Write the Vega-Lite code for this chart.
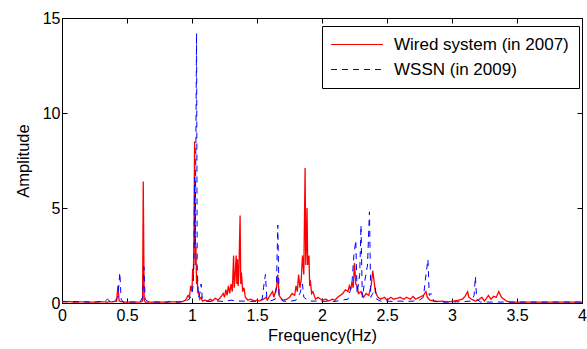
{
  "$schema": "https://vega.github.io/schema/vega-lite/v6.json",
  "autosize": {"type": "none"},
  "width": 520,
  "height": 285,
  "padding": {"left": 62, "top": 18, "right": 5, "bottom": 46},
  "background": "white",
  "config": {
    "font": "Liberation Sans",
    "view": {"stroke": "black", "strokeWidth": 1},
    "axis": {
      "grid": false,
      "domainColor": "black",
      "tickColor": "black",
      "labelColor": "black",
      "titleColor": "black",
      "labelFont": "Liberation Sans",
      "titleFont": "Liberation Sans",
      "labelFontSize": 16,
      "titleFontSize": 16.5,
      "titleFontWeight": "normal",
      "tickSize": -5
    },
    "legend": {
      "labelFont": "Liberation Sans",
      "labelFontSize": 17,
      "labelColor": "black",
      "labelLimit": 400
    }
  },
  "datasets": {
    "wired": [
      {"f":0,"a":0.05},{"f":0.05,"a":0.08},{"f":0.1,"a":0.04},{"f":0.15,"a":0.06},{"f":0.2,"a":0.05},{"f":0.25,"a":0.04},{"f":0.3,"a":0.06},{"f":0.35,"a":0.05},{"f":0.4,"a":0.07},{"f":0.42,"a":0.1},{"f":0.43,"a":0.9},{"f":0.44,"a":0.1},{"f":0.47,"a":0.05},{"f":0.5,"a":0.04},{"f":0.55,"a":0.05},{"f":0.6,"a":0.05},{"f":0.62,"a":0.1},{"f":0.625,"a":6.4},{"f":0.632,"a":0.2},{"f":0.64,"a":0.05},{"f":0.7,"a":0.05},{"f":0.75,"a":0.04},{"f":0.8,"a":0.05},{"f":0.85,"a":0.06},{"f":0.9,"a":0.05},{"f":0.93,"a":0.08},{"f":0.95,"a":0.15},{"f":0.97,"a":0.4},{"f":0.98,"a":0.3},{"f":0.99,"a":0.9},{"f":1.0,"a":0.6},{"f":1.005,"a":1.8},{"f":1.01,"a":1.2},{"f":1.015,"a":3.5},{"f":1.02,"a":8.5},{"f":1.025,"a":2.0},{"f":1.03,"a":3.0},{"f":1.035,"a":1.0},{"f":1.04,"a":1.4},{"f":1.045,"a":0.5},{"f":1.05,"a":0.6},{"f":1.06,"a":0.2},{"f":1.07,"a":0.3},{"f":1.08,"a":0.1},{"f":1.1,"a":0.15},{"f":1.12,"a":0.1},{"f":1.14,"a":0.2},{"f":1.16,"a":0.12},{"f":1.18,"a":0.25},{"f":1.2,"a":0.15},{"f":1.22,"a":0.3},{"f":1.24,"a":0.5},{"f":1.25,"a":0.3},{"f":1.26,"a":0.7},{"f":1.27,"a":0.4},{"f":1.28,"a":0.9},{"f":1.29,"a":0.5},{"f":1.3,"a":1.0},{"f":1.31,"a":0.6},{"f":1.32,"a":2.5},{"f":1.325,"a":0.8},{"f":1.33,"a":1.2},{"f":1.34,"a":2.5},{"f":1.345,"a":1.0},{"f":1.35,"a":2.3},{"f":1.355,"a":0.9},{"f":1.36,"a":1.5},{"f":1.37,"a":4.6},{"f":1.375,"a":1.0},{"f":1.38,"a":1.6},{"f":1.39,"a":0.6},{"f":1.4,"a":0.8},{"f":1.41,"a":0.3},{"f":1.43,"a":0.15},{"f":1.45,"a":0.2},{"f":1.48,"a":0.1},{"f":1.5,"a":0.15},{"f":1.52,"a":0.1},{"f":1.55,"a":0.2},{"f":1.57,"a":0.3},{"f":1.58,"a":0.15},{"f":1.6,"a":0.4},{"f":1.62,"a":0.6},{"f":1.63,"a":0.3},{"f":1.65,"a":0.8},{"f":1.66,"a":1.5},{"f":1.67,"a":0.4},{"f":1.69,"a":0.2},{"f":1.7,"a":0.15},{"f":1.73,"a":0.2},{"f":1.75,"a":0.3},{"f":1.77,"a":0.5},{"f":1.79,"a":0.4},{"f":1.8,"a":0.9},{"f":1.81,"a":0.6},{"f":1.82,"a":1.5},{"f":1.83,"a":0.8},{"f":1.84,"a":1.2},{"f":1.85,"a":2.5},{"f":1.86,"a":1.5},{"f":1.87,"a":7.1},{"f":1.875,"a":2.0},{"f":1.88,"a":3.0},{"f":1.885,"a":5.0},{"f":1.89,"a":2.0},{"f":1.9,"a":2.5},{"f":1.905,"a":0.9},{"f":1.91,"a":1.2},{"f":1.92,"a":0.5},{"f":1.93,"a":0.6},{"f":1.95,"a":0.2},{"f":1.97,"a":0.3},{"f":2.0,"a":0.15},{"f":2.03,"a":0.2},{"f":2.05,"a":0.1},{"f":2.08,"a":0.2},{"f":2.1,"a":0.15},{"f":2.12,"a":0.3},{"f":2.14,"a":0.4},{"f":2.16,"a":0.5},{"f":2.18,"a":0.7},{"f":2.2,"a":0.6},{"f":2.21,"a":0.9},{"f":2.22,"a":0.7},{"f":2.23,"a":1.1},{"f":2.24,"a":0.8},{"f":2.25,"a":2.1},{"f":2.26,"a":1.0},{"f":2.27,"a":0.9},{"f":2.28,"a":0.5},{"f":2.3,"a":0.6},{"f":2.32,"a":0.3},{"f":2.34,"a":0.5},{"f":2.36,"a":0.4},{"f":2.38,"a":1.0},{"f":2.39,"a":1.7},{"f":2.4,"a":1.2},{"f":2.41,"a":0.6},{"f":2.43,"a":0.3},{"f":2.45,"a":0.2},{"f":2.48,"a":0.3},{"f":2.5,"a":0.15},{"f":2.53,"a":0.3},{"f":2.55,"a":0.2},{"f":2.58,"a":0.25},{"f":2.6,"a":0.3},{"f":2.63,"a":0.2},{"f":2.65,"a":0.3},{"f":2.68,"a":0.2},{"f":2.7,"a":0.35},{"f":2.72,"a":0.2},{"f":2.75,"a":0.3},{"f":2.78,"a":0.4},{"f":2.8,"a":0.6},{"f":2.81,"a":0.3},{"f":2.83,"a":0.15},{"f":2.86,"a":0.1},{"f":2.9,"a":0.08},{"f":2.93,"a":0.1},{"f":2.95,"a":0.05},{"f":3.0,"a":0.08},{"f":3.05,"a":0.15},{"f":3.08,"a":0.2},{"f":3.1,"a":0.35},{"f":3.12,"a":0.6},{"f":3.13,"a":0.3},{"f":3.15,"a":0.2},{"f":3.18,"a":0.1},{"f":3.2,"a":0.15},{"f":3.23,"a":0.3},{"f":3.25,"a":0.1},{"f":3.28,"a":0.4},{"f":3.3,"a":0.2},{"f":3.32,"a":0.35},{"f":3.34,"a":0.3},{"f":3.36,"a":0.6},{"f":3.38,"a":0.3},{"f":3.4,"a":0.2},{"f":3.42,"a":0.1},{"f":3.45,"a":0.05},{"f":3.5,"a":0.05},{"f":3.6,"a":0.05},{"f":3.7,"a":0.05},{"f":3.8,"a":0.05},{"f":3.9,"a":0.05},{"f":4.0,"a":0.05}
    ],
    "wssn": [
      {"f":0,"a":0.1},{"f":0.05,"a":0.05},{"f":0.1,"a":0.08},{"f":0.15,"a":0.05},{"f":0.2,"a":0.06},{"f":0.25,"a":0.05},{"f":0.3,"a":0.08},{"f":0.33,"a":0.1},{"f":0.35,"a":0.2},{"f":0.37,"a":0.08},{"f":0.4,"a":0.06},{"f":0.43,"a":0.3},{"f":0.445,"a":1.6},{"f":0.455,"a":0.2},{"f":0.47,"a":0.05},{"f":0.5,"a":0.05},{"f":0.55,"a":0.06},{"f":0.6,"a":0.05},{"f":0.62,"a":0.3},{"f":0.63,"a":1.9},{"f":0.64,"a":0.2},{"f":0.66,"a":0.08},{"f":0.7,"a":0.05},{"f":0.75,"a":0.06},{"f":0.8,"a":0.05},{"f":0.85,"a":0.08},{"f":0.9,"a":0.05},{"f":0.95,"a":0.1},{"f":0.98,"a":0.2},{"f":1.0,"a":0.5},{"f":1.01,"a":1.0},{"f":1.015,"a":2.5},{"f":1.02,"a":6.6},{"f":1.025,"a":3.0},{"f":1.035,"a":14.2},{"f":1.04,"a":2.0},{"f":1.045,"a":1.0},{"f":1.05,"a":0.3},{"f":1.06,"a":0.5},{"f":1.07,"a":1.0},{"f":1.08,"a":0.2},{"f":1.1,"a":0.1},{"f":1.15,"a":0.08},{"f":1.2,"a":0.1},{"f":1.25,"a":0.08},{"f":1.3,"a":0.15},{"f":1.35,"a":0.1},{"f":1.4,"a":0.1},{"f":1.45,"a":0.08},{"f":1.5,"a":0.1},{"f":1.54,"a":0.2},{"f":1.55,"a":0.8},{"f":1.565,"a":1.5},{"f":1.575,"a":0.3},{"f":1.6,"a":0.1},{"f":1.64,"a":0.2},{"f":1.65,"a":1.0},{"f":1.66,"a":4.1},{"f":1.67,"a":0.3},{"f":1.7,"a":0.1},{"f":1.75,"a":0.08},{"f":1.8,"a":0.15},{"f":1.83,"a":0.5},{"f":1.85,"a":1.0},{"f":1.86,"a":0.3},{"f":1.9,"a":0.1},{"f":1.95,"a":0.1},{"f":2.0,"a":0.08},{"f":2.05,"a":0.1},{"f":2.1,"a":0.08},{"f":2.15,"a":0.15},{"f":2.2,"a":0.2},{"f":2.23,"a":1.0},{"f":2.245,"a":2.5},{"f":2.26,"a":3.3},{"f":2.27,"a":0.5},{"f":2.29,"a":1.5},{"f":2.3,"a":4.1},{"f":2.31,"a":0.3},{"f":2.33,"a":1.2},{"f":2.35,"a":2.0},{"f":2.365,"a":4.8},{"f":2.375,"a":0.3},{"f":2.39,"a":0.5},{"f":2.41,"a":0.8},{"f":2.42,"a":0.2},{"f":2.45,"a":0.1},{"f":2.5,"a":0.1},{"f":2.55,"a":0.08},{"f":2.6,"a":0.1},{"f":2.65,"a":0.08},{"f":2.7,"a":0.1},{"f":2.75,"a":0.15},{"f":2.78,"a":0.3},{"f":2.8,"a":1.5},{"f":2.815,"a":2.3},{"f":2.825,"a":0.4},{"f":2.84,"a":0.5},{"f":2.86,"a":0.1},{"f":2.9,"a":0.05},{"f":3.0,"a":0.05},{"f":3.1,"a":0.08},{"f":3.15,"a":0.1},{"f":3.17,"a":0.4},{"f":3.18,"a":1.4},{"f":3.19,"a":0.2},{"f":3.22,"a":0.05},{"f":3.3,"a":0.05},{"f":3.4,"a":0.05},{"f":3.5,"a":0.05},{"f":4.0,"a":0.05}
    ]
  },
  "layer": [
    {
      "data": {"name": "wired"},
      "mark": {"type": "line", "strokeWidth": 1.3, "clip": true},
      "encoding": {
        "x": {"field": "f", "type": "quantitative", "scale": {"domain": [0, 4], "nice": false},
              "axis": {"title": "Frequency(Hz)", "values": [0,0.5,1,1.5,2,2.5,3,3.5,4], "format": "~g", "labelPadding": 9, "titlePadding": 4, "labelFlush": false}},
        "y": {"field": "a", "type": "quantitative", "scale": {"domain": [0, 15], "nice": false},
              "axis": {"title": "Amplitude", "values": [0,5,10,15], "labelPadding": 7, "titlePadding": 11}},
        "color": {"datum": "Wired system (in 2007)", "type": "nominal",
                  "scale": {"domain": ["Wired system (in 2007)", "WSSN (in 2009)"], "range": ["#ff0000", "#0000ff"]},
                  "legend": {"title": null, "orient": "none", "legendX": 260, "legendY": 8,
                             "symbolType": "M-6.5,0H6.5", "symbolSize": 64, "symbolStrokeWidth": 1,
                             "strokeColor": "black", "fillColor": "white", "padding": 10, "rowPadding": 7, "labelOffset": 45,
                             "encode": {"symbols": {"update": {"x": {"value": 25},
                                "stroke": {"signal": "datum.value === 'WSSN (in 2009)' ? '#0000ff' : '#ff0000'"},
                                "strokeDash": {"signal": "datum.value === 'WSSN (in 2009)' ? [6,5] : [1,0]"}}}}}},
        "strokeDash": {"datum": "Wired system (in 2007)", "type": "nominal",
                  "scale": {"domain": ["Wired system (in 2007)", "WSSN (in 2009)"], "range": [[1, 0], [6, 5]]},
                  "legend": null}
      }
    },
    {
      "data": {"name": "wssn"},
      "mark": {"type": "line", "strokeWidth": 1, "clip": true},
      "encoding": {
        "x": {"field": "f", "type": "quantitative",
              "axis": {"orient": "top", "title": null, "labels": false, "values": [0,0.5,1,1.5,2,2.5,3,3.5,4]}},
        "y": {"field": "a", "type": "quantitative",
              "axis": {"orient": "right", "title": null, "labels": false, "values": [0,5,10,15]}},
        "color": {"datum": "WSSN (in 2009)", "type": "nominal"},
        "strokeDash": {"datum": "WSSN (in 2009)", "type": "nominal"}
      }
    }
  ],
  "resolve": {"axis": {"x": "independent", "y": "independent"}}
}
